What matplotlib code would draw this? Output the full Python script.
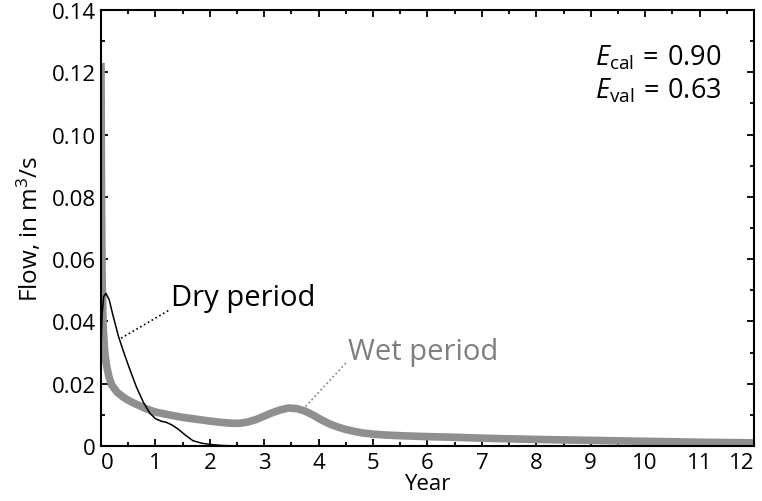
import numpy as np
import matplotlib.pyplot as plt
from matplotlib.ticker import MultipleLocator

plt.rcParams["font.family"] = ["Open Sans", "DejaVu Sans"]
plt.rcParams["mathtext.fontset"] = "custom"
plt.rcParams["mathtext.rm"] = "Open Sans"
plt.rcParams["mathtext.it"] = "Open Sans:italic"

# wet period (thick gray line)
wet_year = [0.0, 0.01, 0.02, 0.04, 0.07, 0.1, 0.15, 0.2, 0.3, 0.4, 0.5, 0.6, 0.7,
            0.8, 0.9, 1.0, 1.25, 1.5, 1.75, 2.0, 2.2, 2.4, 2.55, 2.7, 2.85, 3.0,
            3.15, 3.3, 3.45, 3.6, 3.75, 3.9, 4.05, 4.2, 4.35, 4.5, 4.65, 4.8, 5.0,
            5.25, 5.5, 6.0, 6.5, 7.0, 8.0, 9.0, 10.0, 11.0, 12.0]
wet_flow = [0.123, 0.08, 0.055, 0.038, 0.030, 0.026, 0.022, 0.0195, 0.0172, 0.0158,
            0.0147, 0.0138, 0.0130, 0.0122, 0.0115, 0.0109, 0.0100, 0.0092, 0.0086,
            0.0080, 0.0076, 0.0073, 0.0073, 0.0077, 0.0085, 0.0096, 0.0107, 0.0116,
            0.0122, 0.0120, 0.0112, 0.0099, 0.0084, 0.0071, 0.0061, 0.0053, 0.0047,
            0.0042, 0.0038, 0.0035, 0.0033, 0.0030, 0.0028, 0.0025, 0.0021, 0.0018,
            0.0015, 0.0012, 0.0010]

# dry period (thin black line)
dry_year = [0.0, 0.02, 0.05, 0.09, 0.15, 0.22, 0.32, 0.42, 0.53, 0.65, 0.78, 0.9,
            1.0, 1.1, 1.2, 1.3, 1.42, 1.55, 1.69, 1.85, 2.0, 2.2, 2.5, 3.0]
dry_flow = [0.030, 0.042, 0.048, 0.049, 0.047, 0.042, 0.0353, 0.030, 0.0246, 0.019,
            0.014, 0.0105, 0.0088, 0.0080, 0.0076, 0.0068, 0.0054, 0.0035, 0.0017,
            0.0009, 0.0005, 0.0002, 0.0, 0.0]

year_ticks = list(range(13))
flow_ticks = [0, 0.02, 0.04, 0.06, 0.08, 0.10, 0.12, 0.14]
flow_labels = ["0", "0.02", "0.04", "0.06", "0.08", "0.10", "0.12", "0.14"]

fig, ax = plt.subplots(figsize=(7.62, 5.02), dpi=100)
fig.subplots_adjust(left=0.1325, right=0.9895, top=0.978, bottom=0.1096)

ax.plot(wet_year, wet_flow, color="#8f8f8f", lw=5.5, solid_capstyle="butt", zorder=2)
ax.plot(dry_year, dry_flow, color="black", lw=1.1, zorder=3)

ax.plot([0.37, 1.27], [0.0346, 0.0438], ls=":", color="black", lw=1.2)
ax.text(1.29, 0.0478, "Dry period", fontsize=21, va="center", ha="left")
ax.plot([3.76, 4.52], [0.0127, 0.027], ls=":", color="#808080", lw=1.2)
ax.text(4.54, 0.0305, "Wet period", fontsize=21, va="center", ha="left", color="#7f7f7f")

ax.text(11.4, 0.1248, r"$E_{\mathrm{cal}}\,=\,0.90$", fontsize=19.5, ha="right", va="center")
ax.text(11.4, 0.1142, r"$E_{\mathrm{val}}\,=\,0.63$", fontsize=19.5, ha="right", va="center")

ax.set_xlim(0, 12)
ax.set_ylim(0, 0.14)
ax.set_xticks(year_ticks)
ax.set_xticklabels([str(t) for t in year_ticks])
ax.xaxis.set_minor_locator(MultipleLocator(0.5))
ax.set_yticks(flow_ticks)
ax.set_yticklabels(flow_labels)
ax.yaxis.set_minor_locator(MultipleLocator(0.01))
ax.tick_params(which="both", direction="in", top=True, right=True, labelsize=16,
               width=1.3)
ax.tick_params(which="major", length=5)
ax.tick_params(which="minor", length=3)
ax.tick_params(axis="x", pad=4)
xlabels = ax.get_xticklabels()
xlabels[0].set_ha("left")
xlabels[-1].set_ha("right")
for s in ax.spines.values():
    s.set_linewidth(1.5)

ax.set_xlabel("Year", fontsize=16, labelpad=0)
ax.set_ylabel("Flow, in m$^3$/s", fontsize=17.5, labelpad=6)

plt.savefig("out.png", dpi=100)
